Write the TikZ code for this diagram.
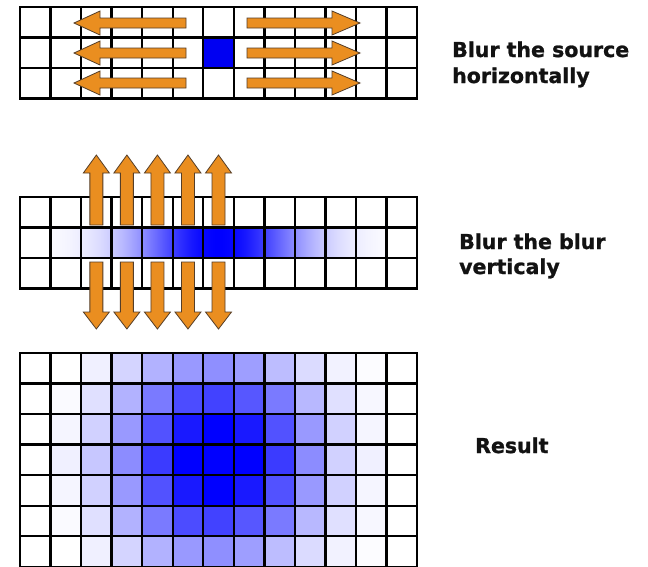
\documentclass[tikz,border=0pt]{standalone}
\usepackage{fontspec}
\setmainfont{DejaVu Sans}[BoldFeatures={FakeBold=1.2}]
\definecolor{arrfill}{RGB}{234,142,32}
\definecolor{arrline}{RGB}{85,62,40}
\tikzset{
  gl/.style={draw=black,line width=2.4pt,line cap=rect},
  arrshape/.style={fill=arrfill,draw=arrline,line width=0.8pt,line join=miter},
  lab/.style={anchor=base west,inner sep=0pt,font=\fontsize{20.5}{24}\selectfont\bfseries,text=black!93}
}
\newcommand\cellsz{30.54}
% horizontal fat arrow: tail x, head base x, tip x, centre y
\newcommand\harrow[4]{\filldraw[arrshape] (#1,#4-5) -- (#2,#4-5) -- (#2,#4-12) -- (#3,#4) -- (#2,#4+12) -- (#2,#4+5) -- (#1,#4+5) -- cycle;}
% vertical fat arrow: centre x, tail y, head base y, tip y
\newcommand\varrow[4]{\filldraw[arrshape] (#1-6.5,#2) -- (#1-6.5,#3) -- (#1-13,#3) -- (#1,#4) -- (#1+13,#3) -- (#1+6.5,#3) -- (#1+6.5,#2) -- cycle;}
% grid lines: top y, bottom y, number of horizontal lines - 1
\newcommand\gridlines[3]{%
  \foreach \i in {0,...,13} \draw[gl] (20+\i*\cellsz,#1) -- (20+\i*\cellsz,#2);
  \foreach \j in {0,...,#3} \draw[gl] (20,#1+\j*\cellsz) -- (417,#1+\j*\cellsz);}
\begin{document}
\begin{tikzpicture}[x=1pt,y=-1pt]
\useasboundingbox (0,0) rectangle (648,566);
\fill[white] (0,0) rectangle (648,566);
\begin{scope}
\clip (0,0) rectangle (648,566);
% ---------- grid 1 ----------
\fill[blue!95!black] (20+6*\cellsz,7+\cellsz) rectangle (20+7*\cellsz,7+2*\cellsz);
\gridlines{7}{98.6}{3}
\foreach \y in {23,53,83} {
  \harrow{186}{100}{74}{\y}
  \harrow{247}{332}{360}{\y}
}
% ---------- grid 2 ----------
\foreach \x in {50,...,387} {
  \pgfmathsetmacro\dd{(\x+0.5-219)/85}
  \pgfmathsetmacro\pp{max(0,min(100,100*exp(-\dd*\dd)))}
  \fill[blue!\pp!white] (\x,228) rectangle (\x+1.1,259);
}
\gridlines{197}{288.6}{3}
\foreach \k in {2,...,6} {
  \varrow{20+\k*\cellsz+0.5*\cellsz}{225}{173}{155}
  \varrow{20+\k*\cellsz+0.5*\cellsz}{262}{312}{329}
}
% ---------- grid 3 ----------
\foreach \row/\vals in {
  0/{0,0,6,17,30,40,44,38,26,14,5,1,0},
  1/{0,2,12,30,52,70,74,66,52,28,12,3,0},
  2/{0,4,18,40,68,90,100,90,68,40,18,4,0},
  3/{0,6,22,45,77,100,100,100,77,45,18,6,0},
  4/{0,4,18,40,68,90,100,90,68,40,18,4,0},
  5/{0,2,12,30,52,70,74,66,52,28,12,3,0},
  6/{0,0,6,17,30,40,44,38,26,14,5,1,0}} {
  \foreach \v [count=\c from 0] in \vals {
    \fill[blue!\v!white] (20+\c*\cellsz,353+\row*\cellsz) rectangle (20+\c*\cellsz+\cellsz,353+\row*\cellsz+\cellsz);
  }
}
\gridlines{353}{580}{7}
\end{scope}
% ---------- labels ----------
\node[lab] (l1a) at (452,57) {Blur the source};
\node[lab] (l1b) at (452,83) {horizontally};
\node[lab] (l2a) at (459,249) {Blur the blur};
\node[lab] (l2b) at (459,274) {verticaly};
\node[lab] (l3) at (475,453) {Result};
\end{tikzpicture}
\end{document}
